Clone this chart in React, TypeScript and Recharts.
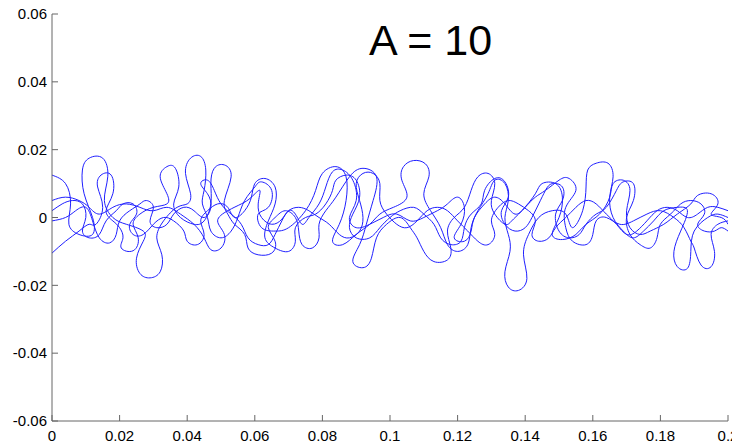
import { Line, LineChart, XAxis, YAxis } from 'recharts';

type Pt = { x: number; y: number };
const toPts = (arr: number[][]): Pt[] => arr.map(([x, y]) => ({ x, y }));

const xTicks = [0, 0.02, 0.04, 0.06, 0.08, 0.1, 0.12, 0.14, 0.16, 0.18, 0.2];
const yTicks = [-0.06, -0.04, -0.02, 0, 0.02, 0.04, 0.06];

const path1 = [
  [0, 0.0125], [0.004, 0.01], [0.0055, 0.004], [0.005, -0.002], [0.008, -0.005], [0.012, -0.005],
  [0.012, 0.0], [0.0095, 0.007], [0.009, 0.014], [0.011, 0.0175], [0.015, 0.0175], [0.0165, 0.012],
  [0.0155, 0.005], [0.018, 0.0], [0.022, -0.002], [0.027, -0.004], [0.027, -0.007], [0.025, -0.012],
  [0.026, -0.0165], [0.029, -0.0178], [0.032, -0.016], [0.0325, -0.011], [0.031, -0.006], [0.033, -0.001],
  [0.037, 0.003], [0.04, 0.004], [0.041, 0.007], [0.0395, 0.013], [0.041, 0.0175], [0.044, 0.018],
  [0.0455, 0.014], [0.045, 0.008], [0.0445, 0.004], [0.046, 0.0], [0.047, -0.004], [0.05, -0.006],
  [0.053, -0.004], [0.055, 0.0], [0.057, 0.005], [0.06, 0.009], [0.062, 0.0105], [0.065, 0.008],
  [0.064, 0.003], [0.061, 0.001], [0.062, -0.003], [0.066, -0.004], [0.07, -0.003], [0.075, 0.002],
  [0.078, 0.008], [0.08, 0.013], [0.084, 0.015], [0.087, 0.012], [0.087, 0.005], [0.085, -0.002],
  [0.083, -0.007], [0.086, -0.008], [0.09, -0.005], [0.094, -0.002], [0.097, 0.001], [0.101, 0.003],
  [0.105, 0.006], [0.1035, 0.011], [0.104, 0.015], [0.107, 0.0168], [0.1105, 0.0158], [0.1115, 0.012],
  [0.11, 0.007], [0.112, 0.002], [0.115, -0.003], [0.117, -0.008], [0.12, -0.01], [0.123, -0.008],
  [0.124, -0.003], [0.126, 0.002], [0.129, 0.007], [0.131, 0.011], [0.134, 0.01], [0.135, 0.005],
  [0.134, 0.0], [0.135, -0.005], [0.1355, -0.01], [0.134, -0.016], [0.135, -0.0205], [0.138, -0.0215],
  [0.1405, -0.018], [0.1395, -0.011], [0.141, -0.005], [0.144, 0.0], [0.148, 0.002], [0.152, 0.001],
  [0.154, -0.003], [0.157, 0.002], [0.158, 0.009], [0.1585, 0.014], [0.161, 0.016], [0.1645, 0.016],
  [0.166, 0.012], [0.165, 0.006], [0.166, 0.0], [0.169, -0.004], [0.172, -0.006], [0.175, -0.004],
  [0.178, -0.001], [0.181, 0.002], [0.185, 0.003], [0.188, 0.002], [0.186, -0.004], [0.184, -0.01],
  [0.185, -0.0145], [0.188, -0.015], [0.189, -0.01], [0.19, -0.004], [0.194, 0.0], [0.197, 0.001],
  [0.2, 0.0],
];

const path2 = [
  [0, -0.0105], [0.004, -0.007], [0.008, -0.004], [0.011, -0.002], [0.013, -0.002], [0.015, 0.003],
  [0.0135, 0.009], [0.0145, 0.0125], [0.0175, 0.0125], [0.018, 0.007], [0.016, 0.002], [0.018, -0.001],
  [0.02, -0.003], [0.021, -0.006], [0.0205, -0.009], [0.024, -0.0098], [0.0255, -0.006], [0.024, -0.002],
  [0.026, 0.001], [0.03, 0.003], [0.034, 0.004], [0.034, 0.007], [0.032, 0.012], [0.034, 0.015],
  [0.0365, 0.0145], [0.0375, 0.009], [0.036, 0.004], [0.038, 0.0], [0.042, -0.002], [0.045, -0.001],
  [0.047, 0.004], [0.047, 0.01], [0.048, 0.0145], [0.051, 0.0155], [0.053, 0.012], [0.051, 0.005],
  [0.052, 0.001], [0.054, -0.002], [0.057, -0.005], [0.058, -0.009], [0.061, -0.011], [0.065, -0.0105],
  [0.066, -0.007], [0.064, -0.003], [0.066, 0.0], [0.069, 0.002], [0.072, 0.0], [0.073, -0.004],
  [0.074, -0.008], [0.077, -0.009], [0.079, -0.006], [0.079, -0.002], [0.081, 0.002], [0.084, 0.006],
  [0.088, 0.012], [0.092, 0.0145], [0.096, 0.012], [0.095, 0.005], [0.093, -0.002], [0.091, -0.008],
  [0.089, -0.013], [0.092, -0.0148], [0.0945, -0.012], [0.096, -0.006], [0.099, -0.002], [0.103, 0.0],
  [0.106, -0.003], [0.108, -0.006], [0.11, -0.01], [0.113, -0.013], [0.117, -0.0125], [0.118, -0.009],
  [0.117, -0.004], [0.119, 0.0], [0.122, 0.003], [0.124, 0.008], [0.126, 0.012], [0.129, 0.013],
  [0.131, 0.01], [0.13, 0.005], [0.131, 0.001], [0.134, -0.002], [0.136, -0.001], [0.139, 0.002],
  [0.143, 0.007], [0.145, 0.01], [0.149, 0.01], [0.151, 0.006], [0.15, 0.0], [0.148, -0.005],
  [0.151, -0.0065], [0.155, -0.005], [0.158, -0.002], [0.162, 0.001], [0.165, 0.006], [0.166, 0.01],
  [0.169, 0.011], [0.171, 0.008], [0.17, 0.002], [0.171, -0.003], [0.174, -0.005], [0.177, -0.004],
  [0.181, -0.002], [0.185, 0.001], [0.189, 0.004], [0.191, 0.0065], [0.195, 0.007], [0.197, 0.004],
  [0.195, 0.001], [0.198, 0.0], [0.2, -0.002],
];

const path3 = [
  [0, 0.005], [0.004, 0.006], [0.008, 0.005], [0.011, 0.003], [0.014, 0.001], [0.018, 0.003],
  [0.022, 0.004], [0.026, 0.003], [0.03, 0.002], [0.034, 0.003], [0.038, 0.001], [0.042, -0.002],
  [0.045, -0.006], [0.047, -0.0095], [0.05, -0.009], [0.051, -0.005], [0.049, -0.001], [0.052, 0.002],
  [0.056, 0.004], [0.059, 0.006], [0.0615, 0.008], [0.061, 0.004], [0.062, 0.0], [0.065, -0.002],
  [0.068, -0.0005], [0.07, 0.002], [0.072, 0.001], [0.074, -0.002], [0.076, 0.0], [0.079, 0.004],
  [0.081, 0.009], [0.083, 0.0135], [0.086, 0.014], [0.089, 0.011], [0.09, 0.005], [0.088, 0.0],
  [0.09, -0.003], [0.094, -0.002], [0.098, 0.0], [0.102, 0.001], [0.106, -0.001], [0.11, 0.0],
  [0.114, 0.002], [0.117, 0.004], [0.12, 0.006], [0.122, 0.003], [0.121, -0.002], [0.119, -0.006],
  [0.122, -0.007], [0.124, -0.004], [0.125, 0.0], [0.128, 0.004], [0.131, 0.006], [0.134, 0.004],
  [0.137, 0.001], [0.14, 0.003], [0.143, 0.006], [0.146, 0.008], [0.15, 0.011], [0.153, 0.0115],
  [0.155, 0.008], [0.152, 0.003], [0.152, -0.003], [0.154, -0.007], [0.158, -0.008], [0.16, -0.005],
  [0.161, -0.001], [0.164, 0.0], [0.168, -0.002], [0.172, -0.001], [0.176, 0.001], [0.18, 0.002],
  [0.184, 0.0], [0.187, -0.003], [0.189, -0.007], [0.19, -0.009], [0.192, -0.014], [0.195, -0.0145],
  [0.196, -0.01], [0.195, -0.005], [0.197, -0.002], [0.2, -0.001],
];

const path4 = [
  [0, -0.001], [0.004, 0.0], [0.007, 0.002], [0.01, 0.003], [0.012, -0.001], [0.014, -0.006],
  [0.017, -0.0075], [0.019, -0.005], [0.02, -0.001], [0.023, 0.002], [0.026, 0.004], [0.028, 0.005],
  [0.03, 0.003], [0.029, -0.001], [0.031, -0.003], [0.034, -0.002], [0.036, 0.001], [0.039, 0.003],
  [0.042, 0.002], [0.045, 0.0], [0.047, 0.003], [0.046, 0.007], [0.044, 0.01], [0.046, 0.011],
  [0.048, 0.008], [0.05, 0.004], [0.053, 0.001], [0.056, -0.002], [0.058, -0.006], [0.061, -0.008],
  [0.064, -0.008], [0.066, -0.005], [0.068, -0.001], [0.07, 0.002], [0.073, 0.003], [0.076, 0.002],
  [0.079, 0.0], [0.082, -0.002], [0.085, -0.005], [0.088, -0.006], [0.091, -0.004], [0.092, 0.0],
  [0.091, 0.005], [0.09, 0.01], [0.092, 0.013], [0.095, 0.013], [0.097, 0.01], [0.097, 0.005],
  [0.099, 0.001], [0.102, -0.002], [0.105, -0.003], [0.108, -0.001], [0.111, 0.002], [0.114, 0.003],
  [0.117, 0.002], [0.12, -0.001], [0.123, -0.004], [0.126, -0.007], [0.129, -0.008], [0.131, -0.005],
  [0.13, -0.001], [0.132, 0.003], [0.135, 0.005], [0.138, 0.004], [0.141, 0.002], [0.143, -0.001],
  [0.142, -0.005], [0.144, -0.007], [0.147, -0.006], [0.149, -0.003], [0.152, 0.0], [0.155, 0.003],
  [0.158, 0.005], [0.161, 0.004], [0.164, 0.001], [0.167, -0.002], [0.17, -0.005], [0.173, -0.004],
  [0.176, -0.001], [0.179, 0.002], [0.182, 0.003], [0.185, 0.002], [0.188, 0.0], [0.191, 0.001],
  [0.194, 0.003], [0.197, 0.003], [0.2, 0.002],
];

const path5 = [
  [0, 0.002], [0.003, 0.004], [0.006, 0.005], [0.009, 0.004], [0.01, 0.0], [0.009, -0.004],
  [0.011, -0.006], [0.014, -0.005], [0.016, -0.001], [0.019, 0.002], [0.021, 0.004], [0.024, 0.004],
  [0.025, 0.001], [0.023, -0.002], [0.024, -0.005], [0.027, -0.005], [0.03, -0.002], [0.033, 0.0],
  [0.036, -0.001], [0.039, -0.004], [0.04, -0.007], [0.043, -0.008], [0.045, -0.005], [0.044, -0.001],
  [0.046, 0.002], [0.049, 0.004], [0.052, 0.003], [0.054, 0.0], [0.057, 0.002], [0.059, 0.006],
  [0.06, 0.01], [0.063, 0.0115], [0.066, 0.009], [0.066, 0.004], [0.064, -0.001], [0.063, -0.006],
  [0.066, -0.009], [0.07, -0.01], [0.072, -0.007], [0.072, -0.003], [0.075, 0.0], [0.078, 0.001],
  [0.081, 0.004], [0.083, 0.008], [0.084, 0.011], [0.087, 0.0125], [0.09, 0.011], [0.091, 0.006],
  [0.089, 0.001], [0.088, -0.003], [0.09, -0.006], [0.094, -0.006], [0.097, -0.003], [0.1, 0.0],
  [0.103, 0.002], [0.107, 0.003], [0.11, 0.001], [0.113, -0.002], [0.115, -0.006], [0.118, -0.008],
  [0.121, -0.007], [0.122, -0.003], [0.124, 0.001], [0.127, 0.004], [0.128, 0.008], [0.131, 0.0115],
  [0.134, 0.0105], [0.135, 0.006], [0.133, 0.002], [0.134, -0.002], [0.137, -0.004], [0.14, -0.003],
  [0.142, 0.0], [0.144, 0.004], [0.146, 0.008], [0.148, 0.01], [0.151, 0.009], [0.151, 0.005],
  [0.149, 0.001], [0.15, -0.004], [0.153, -0.006], [0.156, -0.005], [0.158, -0.002], [0.161, 0.001],
  [0.164, 0.003], [0.167, 0.008], [0.169, 0.0105], [0.172, 0.01], [0.172, 0.005], [0.17, 0.0],
  [0.171, -0.005], [0.174, -0.008], [0.177, -0.009], [0.179, -0.006], [0.18, -0.002], [0.183, 0.001],
  [0.186, 0.004], [0.189, 0.005], [0.192, 0.004], [0.193, 0.001], [0.191, -0.002], [0.193, -0.004],
  [0.196, -0.004], [0.198, -0.003], [0.2, -0.004],
];

const paths = [path1, path2, path3, path4, path5].map(toPts);

const fmt = (v: number) => String(Number(v.toFixed(2)));
const axisColor = '#666666';
const fontStack = "'Liberation Sans', Arial, Helvetica, sans-serif";

const XTick = (props: any) => (
  <text
    x={props.x}
    y={props.y}
    dy='0.71em'
    textAnchor='middle'
    fontFamily={fontStack}
    fontSize={15}
    fill='#000'
  >
    {fmt(props.payload.value)}
  </text>
);

const YTick = (props: any) => (
  <text
    x={props.x}
    y={props.y}
    dy='0.355em'
    textAnchor='end'
    fontFamily={fontStack}
    fontSize={15}
    fill='#000'
  >
    {fmt(props.payload.value)}
  </text>
);

export default function App() {
  return (
    <div style={{ position: 'relative', width: 732, height: 445, marginTop: -8 }}>
      <LineChart width={732} height={445} margin={{ top: 14, right: 12, left: 0, bottom: 0 }}>
        <XAxis
          type='number'
          dataKey='x'
          domain={[0, 0.2]}
          ticks={xTicks}
          allowDataOverflow
          height={24}
          stroke={axisColor}
          tickSize={-6}
          tickMargin={15}
          tick={XTick}
          interval={0}
        />
        <YAxis
          type='number'
          dataKey='y'
          domain={[-0.06, 0.06]}
          ticks={yTicks}
          allowDataOverflow
          width={44}
          stroke={axisColor}
          tickSize={-6}
          tickMargin={11}
          tick={YTick}
          interval={0}
        />
        {paths.map((p, i) => (
          <Line
            key={i}
            data={p}
            dataKey='y'
            type='natural'
            stroke='#1f1fff'
            strokeWidth={1}
            dot={false}
            activeDot={false}
            isAnimationActive={false}
          />
        ))}
      </LineChart>
      <div
        style={{
          position: 'absolute',
          left: 361,
          top: 18.5,
          fontFamily: fontStack,
          fontSize: 43,
          lineHeight: '43px',
          color: '#000',
          whiteSpace: 'nowrap',
        }}
      >
        A = 10
      </div>
    </div>
  );
}
